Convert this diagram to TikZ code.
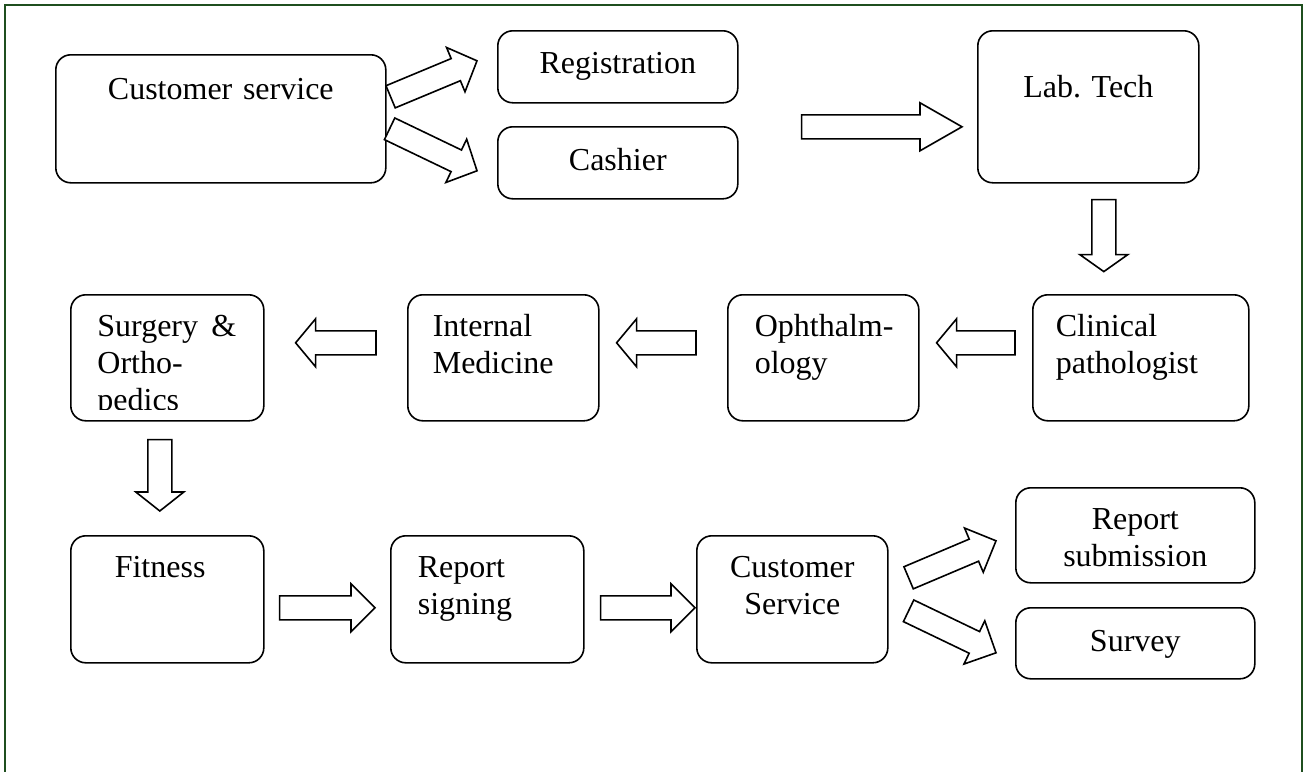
\documentclass[tikz,border=0pt]{standalone}
\usepackage{fontspec}
\setmainfont{Liberation Serif}
\usepackage{xcolor}
\usepackage{tikz}
\usetikzlibrary{
  calc
}
\definecolor{FrameGreen}{HTML}{1F4F1F}
\tikzset{
  stage/.style={
    draw,
    line width=0.8pt,
    rounded corners=7.5pt,
    inner ysep=0pt,
    inner xsep=0pt,
    anchor=north west
  },
  stagetext/.style={
    inner sep=0pt,
    anchor=north west
  },
  arrowbody/.style={
    draw,
    line width=0.8pt,
    fill=white,
    line join=miter
  },
  frame/.style={
    draw=FrameGreen,
    line width=1pt
  }
}
% #1 head length, #2 tail, #3 tip
\newcommand\blockarrow[3][10pt]{
  \coordinate (ba-t) at #2;
  \coordinate (ba-h) at #3;
  \coordinate (ba-b) at ($(ba-h)!#1!(ba-t)$);
  \draw[arrowbody]
    ($(ba-t)!6pt!90:(ba-h)$) --
    ($(ba-b)!6pt!90:(ba-h)$) --
    ($(ba-b)!12pt!90:(ba-h)$) --
    (ba-h) --
    ($(ba-b)!12pt!-90:(ba-h)$) --
    ($(ba-b)!6pt!-90:(ba-h)$) --
    ($(ba-t)!6pt!-90:(ba-h)$) -- cycle;
}

\begin{document}
\begin{tikzpicture}[
  x=0.5pt,
  y=-0.5pt,
  font=\fontsize{16pt}{18.4pt}\selectfont
]

  \useasboundingbox (0,0) rectangle (1305,771);
  \clip (0,0) rectangle (1305,771);
  \draw[frame] (5,5) rectangle (1302,800);

  % first row
  \node[
    stage,
    align=center,
    text width=165pt,
    text height=22.5pt,
    text depth=41.5pt
  ] (custsvc) at (55,54) {Customer service};

  \node[
    stage,
    align=center,
    text width=120pt,
    text height=21.5pt,
    text depth=14.5pt
  ] (reg) at (497,30) {Registration};

  \node[
    stage,
    align=center,
    text width=120pt,
    text height=22pt,
    text depth=14pt
  ] (cash) at (497,126) {Cashier};

  \node[
    stage,
    align=center,
    text width=110.5pt,
    text height=33.5pt,
    text depth=42.5pt
  ] (labtech) at (977,30) {Lab.\ Tech};

  % second row
  \node[
    stage,
    align=left,
    inner xsep=11.5pt,
    text width=85pt,
    text height=21pt,
    text depth=42pt
  ] (clin) at (1032,294) {Clinical\\pathologist};

  \node[
    stage,
    align=left,
    inner xsep=13.5pt,
    text width=68.5pt,
    text height=21pt,
    text depth=42pt
  ] (ophth) at (727,294) {\mbox{Ophthalm-}\\ology};

  \node[
    stage,
    align=left,
    inner xsep=12.5pt,
    text width=70.5pt,
    text height=21pt,
    text depth=42pt
  ] (intmed) at (407,294) {Internal\\Medicine};

  \node[
    stage,
    minimum width=96.5pt,
    minimum height=63pt
  ] (surg) at (70,294) {};
  \begin{scope}
    \clip (surg.north west) rectangle ($(surg.south east)+(0,-12)$);
    \node[
      stagetext,
      align=left,
      text width=69.5pt,
      text height=21pt
    ] (surgtext) at ($(surg.north west)+(27,0)$) {Surgery\hfill\&\\\mbox{Ortho-}\\pedics};
  \end{scope}

  % third row
  \node[
    stage,
    align=left,
    inner xsep=22pt,
    text width=52.5pt,
    text height=21pt,
    text depth=42.5pt
  ] (fitness) at (70,535) {Fitness};

  \node[
    stage,
    align=left,
    inner xsep=13.5pt,
    text width=69.5pt,
    text height=21pt,
    text depth=42.5pt
  ] (sign) at (390,535) {Report\\signing};

  \node[
    stage,
    align=center,
    text width=95.5pt,
    text height=21pt,
    text depth=42.5pt
  ] (custsvc2) at (696,535) {Customer\\Service};

  \node[
    stage,
    align=center,
    text width=119.5pt,
    text height=21pt,
    text depth=26.5pt
  ] (repsub) at (1015,487) {Report\\submission};

  \node[
    stage,
    align=center,
    text width=119.5pt,
    text height=22pt,
    text depth=13.5pt
  ] (survey) at (1015,607) {Survey};

  % block arrows
  \blockarrow[11.5pt]{($(custsvc.east)+(4,-22)$)}{($(reg.west)+(-20,-6)$)}
  \blockarrow[11.5pt]{($(custsvc.east)+(3,10)$)}{($(cash.west)+(-20,8)$)}
  \blockarrow[21pt]{($(reg.south east)!0.5!(cash.north east)+(63,12)$)}{($(labtech.west)+(-15,20)$)}
  \blockarrow[8.5pt]{($(labtech.south)+(15.5,16)$)}{($(labtech.south)+(15.5,88)$)}
  \blockarrow[10pt]{($(clin.west)+(-17,-15)$)}{($(ophth.east)+(17,-15)$)}
  \blockarrow[10pt]{($(ophth.west)+(-31,-15)$)}{($(intmed.east)+(17,-15)$)}
  \blockarrow[10pt]{($(intmed.west)+(-31,-15)$)}{($(surg.east)+(31,-15)$)}
  \blockarrow[9.5pt]{($(surg.south)+(-7.5,18)$)}{($(fitness.north)+(-7.5,-24)$)}
  \blockarrow[12pt]{($(fitness.east)+(15,8.5)$)}{($(sign.west)+(-15,8.5)$)}
  \blockarrow[12pt]{($(sign.east)+(16,8.5)$)}{($(custsvc2.west)+(-1,8.5)$)}
  \blockarrow[12pt]{($(custsvc2.east)+(20,-21.5)$)}{($(repsub.west)+(-19,5.5)$)}
  \blockarrow[12pt]{($(custsvc2.east)+(20,11.5)$)}{($(survey.west)+(-19,9.5)$)}

\end{tikzpicture}
\end{document}
